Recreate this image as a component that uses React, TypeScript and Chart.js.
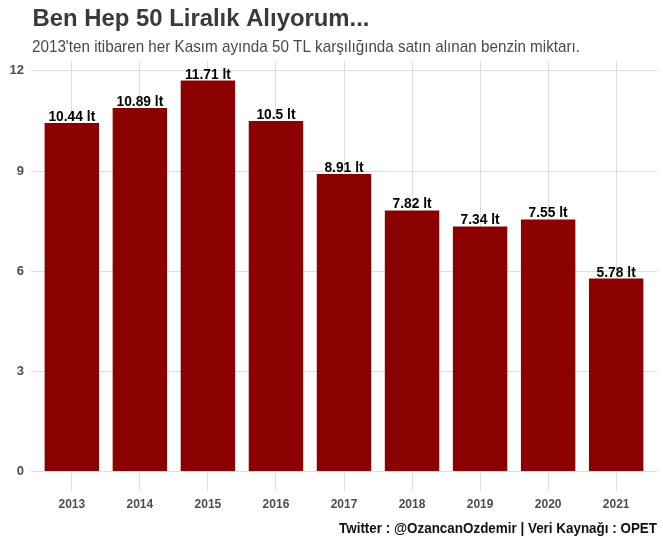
import React, { useEffect, useRef } from "react";
import { Chart, registerables } from "chart.js";

Chart.register(...registerables);

// Yearly litres of petrol bought for 50 TL every November
const years = ["2013", "2014", "2015", "2016", "2017", "2018", "2019", "2020", "2021"];
const litres = [10.44, 10.89, 11.71, 10.5, 8.91, 7.82, 7.34, 7.55, 5.78];
const valueLabels = ["10.44 lt", "10.89 lt", "11.71 lt", "10.5 lt", "8.91 lt", "7.82 lt", "7.34 lt", "7.55 lt", "5.78 lt"];
const yTicks = [0, 3, 6, 9, 12];

const titleText = "Ben Hep 50 Liralık Alıyorum...";
const subtitleText = "2013'ten itibaren her Kasım ayında 50 TL karşılığında satın alınan benzin miktarı.";
const captionText = "Twitter : @OzancanOzdemir | Veri Kaynağı : OPET";

const FONT = "'Liberation Sans', Arial, sans-serif";
const BAR_COLOR = "#8b0000";
const GRID_COLOR = "#dcdcdc";

// Draws text squeezed/stretched horizontally so that it spans a given width
function drawFitted(
  ctx: CanvasRenderingContext2D,
  text: string,
  x: number,
  y: number,
  width: number,
  align: "left" | "right" | "center"
) {
  const w = ctx.measureText(text).width;
  const s = width / w;
  ctx.save();
  ctx.translate(x, y);
  ctx.scale(s, 1);
  ctx.textAlign = align;
  ctx.fillText(text, 0, 0);
  ctx.restore();
}

const textPlugin = {
  id: "annotations",
  afterDatasetsDraw(chart: any) {
    const ctx: CanvasRenderingContext2D = chart.ctx;
    ctx.save();
    ctx.textBaseline = "alphabetic";

    // value labels above each bar
    const meta = chart.getDatasetMeta(0);
    ctx.fillStyle = "#000000";
    ctx.font = `bold 15px ${FONT}`;
    ctx.textAlign = "center";
    meta.data.forEach((bar: any, i: number) => {
      const w = ctx.measureText(valueLabels[i]).width;
      drawFitted(ctx, valueLabels[i], bar.x, bar.y - 2, w * 0.92, "center");
    });

    // title, subtitle, caption
    ctx.fillStyle = "#3a3a3a";
    ctx.font = `bold 23px ${FONT}`;
    drawFitted(ctx, titleText, 32.5, 26, 337, "left");

    ctx.fillStyle = "#4a4a4a";
    ctx.font = `17px ${FONT}`;
    drawFitted(ctx, subtitleText, 32, 52, 548, "left");

    ctx.fillStyle = "#111111";
    ctx.font = `bold 15px ${FONT}`;
    drawFitted(ctx, captionText, 657, 533, 318, "right");

    ctx.restore();
  },
};

export default function App() {
  const canvasRef = useRef<HTMLCanvasElement | null>(null);

  useEffect(() => {
    if (!canvasRef.current) return;
    const chart = new Chart(canvasRef.current, {
      type: "bar",
      data: {
        datasets: [
          {
            data: litres.map((v, i) => ({ x: i, y: v })),
            backgroundColor: BAR_COLOR,
            borderWidth: 0,
            barPercentage: 0.8,
            categoryPercentage: 1,
          },
        ],
      },
      options: {
        responsive: false,
        animation: false,
        layout: { padding: { left: 0, right: 6, top: 61, bottom: 0 } },
        plugins: {
          legend: { display: false },
          tooltip: { enabled: false },
          title: { display: false },
        },
        scales: {
          x: {
            type: "linear",
            min: -0.6,
            max: 8.6,
            offset: false,
            afterBuildTicks: (scale: any) => {
              scale.ticks = years.map((_, i) => ({ value: i }));
            },
            afterFit: (scale: any) => {
              scale.height = 56;
            },
            grid: { color: GRID_COLOR, lineWidth: 1, drawTicks: false, offset: false },
            border: { display: false },
            ticks: {
              padding: 6,
              autoSkip: false,
              maxRotation: 0,
              color: "#4d4d4d",
              font: { family: FONT, size: 12, weight: "bold" },
              callback: (v: any) => years[Math.round(Number(v))] ?? "",
            },
          },
          y: {
            type: "linear",
            min: -0.585,
            max: 12.295,
            afterBuildTicks: (scale: any) => {
              scale.ticks = yTicks.map((v) => ({ value: v }));
            },
            afterFit: (scale: any) => {
              scale.width = 31;
            },
            grid: { color: GRID_COLOR, lineWidth: 1, drawTicks: false },
            border: { display: false },
            ticks: {
              padding: 7,
              color: "#4d4d4d",
              font: { family: FONT, size: 13, weight: "bold" },
              callback: (v: any) => String(v),
            },
          },
        },
      },
      plugins: [textPlugin],
    } as any);
    return () => chart.destroy();
  }, []);

  return (
    <canvas
      ref={canvasRef}
      width={663}
      height={547}
      style={{ position: "fixed", left: 0, top: 0, width: 663, height: 547, background: "#ffffff" }}
    />
  );
}
